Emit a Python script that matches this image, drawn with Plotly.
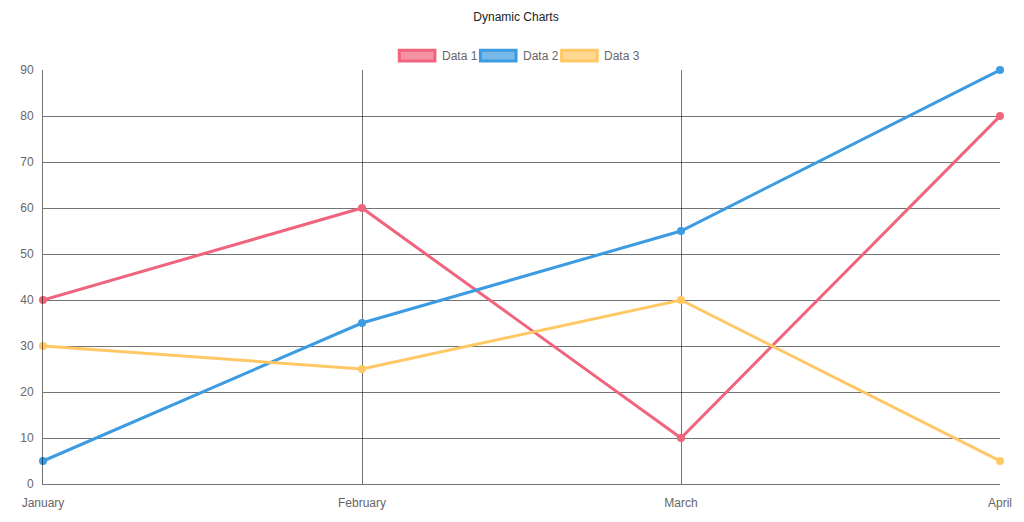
import plotly.graph_objects as go

months = ["January", "February", "March", "April"]
data1 = [40, 60, 10, 80]
data2 = [5, 35, 55, 90]
data3 = [30, 25, 40, 5]
names = ["Data 1", "Data 2", "Data 3"]
colors = ["rgb(240,100,125)", "rgb(60,155,225)", "rgb(255,200,100)"]
fills = ["rgba(240,100,125,0.7)", "rgba(60,155,225,0.7)", "rgba(255,200,100,0.7)"]

fig = go.Figure()
for vals, n, c in zip([data1, data2, data3], names, colors):
    fig.add_trace(go.Scatter(x=months, y=vals, name=n, mode="lines+markers", cliponaxis=False,
                             line=dict(color=c, width=3), marker=dict(color=c, size=8)))

L, R, T, B = 37, 1004, 70, 488
def px(x): return (x - L) / (R - L)
def py(y): return (B - y) / (B - T)

shapes, anns = [], []
for i, (n, c, f) in enumerate(zip(names, colors, fills)):
    x0 = 397 + i * 82
    shapes.append(dict(type="rect", xref="paper", yref="paper", x0=px(x0), x1=px(x0 + 36),
                       y0=py(61), y1=py(50), line=dict(color=c, width=3), fillcolor=f))
    anns.append(dict(xref="paper", yref="paper", x=px(x0 + 41), y=py(55.5), text=n,
                     showarrow=False, xanchor="left", yanchor="middle",
                     font=dict(size=12, color="#666")))

grid = "rgba(0,0,0,0.55)"
fig.update_layout(
    width=1016, height=514, showlegend=False,
    margin=dict(l=29, r=20, t=62, b=34),
    paper_bgcolor="white", plot_bgcolor="white",
    font=dict(family="Liberation Sans, Arial", size=12, color="#666"),
    title=dict(text="Dynamic Charts", x=0.5, y=0.9825, xanchor="center", yanchor="middle",
               font=dict(size=12, color="#222")),
    shapes=shapes, annotations=anns,
    xaxis=dict(type="category", range=[0, 3], showgrid=True, gridcolor=grid, gridwidth=1,
               zeroline=False, showline=True, linecolor=grid, ticks="outside", ticklen=8,
               tickcolor="rgba(0,0,0,0)", mirror=False),
    yaxis=dict(range=[0, 90], dtick=10, showgrid=True, gridcolor=grid, zeroline=False,
               showline=True, linecolor=grid, ticks="outside", ticklen=6,
               tickcolor="rgba(0,0,0,0)"),
)
fig.write_html("out.html")
